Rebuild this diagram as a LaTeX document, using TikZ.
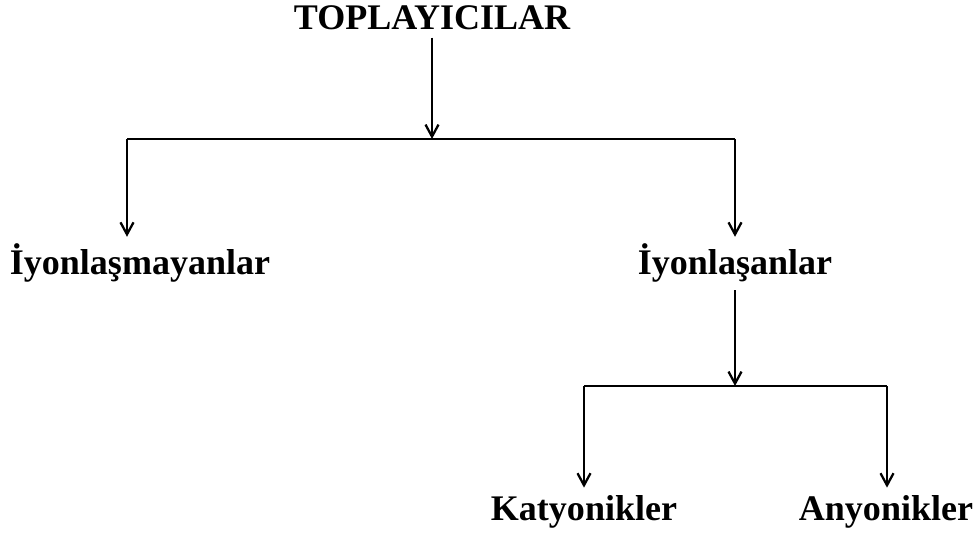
\documentclass[tikz,border=0pt]{standalone}
\usepackage{fontspec}
\setmainfont{Liberation Serif}
\usetikzlibrary{arrows.meta}

\begin{document}
\begin{tikzpicture}[x=0.02cm, y=-0.02cm,
      lbl/.style={font=\fontsize{20.5}{24}\selectfont\bfseries, anchor=base, inner sep=4pt},
      arr/.style={-{Straight Barb[length=2.4mm, width=2.6mm]}, line width=1.3pt},
      bar/.style={line width=1.3pt}
    ]
    \useasboundingbox (0,0) rectangle (980,533);

    % Labels
    \node[lbl] (top) at (432,30)  {TOPLAYICILAR};
    \node[lbl] (non) at (140,275) {İyonlaşmayanlar};
    \node[lbl] (ion) at (735,275) {İyonlaşanlar};
    \node[lbl] (kat) at (584,520) {Katyonikler};
    \node[lbl] (any) at (886,520) {Anyonikler};

    % First split
    \coordinate (j1) at (432,139);
    \coordinate (l1) at (127,139);
    \coordinate (r1) at (735,139);

    \draw[arr] (top.south) -- (j1);
    \draw[bar] (l1) -- (r1);
    \draw[arr] (l1) -- (l1 |- non.north);
    \draw[arr] (r1) -- (r1 |- ion.north);

    % Second split
    \coordinate (j2) at (735,386);
    \coordinate (l2) at (584,386);
    \coordinate (r2) at (887,386);

    \draw[arr] (ion.south) -- (j2);
    \draw[bar] (l2) -- (r2);
    \draw[arr] (l2) -- (l2 |- kat.north);
    \draw[arr] (r2) -- (r2 |- any.north);

  \end{tikzpicture}
\end{document}
